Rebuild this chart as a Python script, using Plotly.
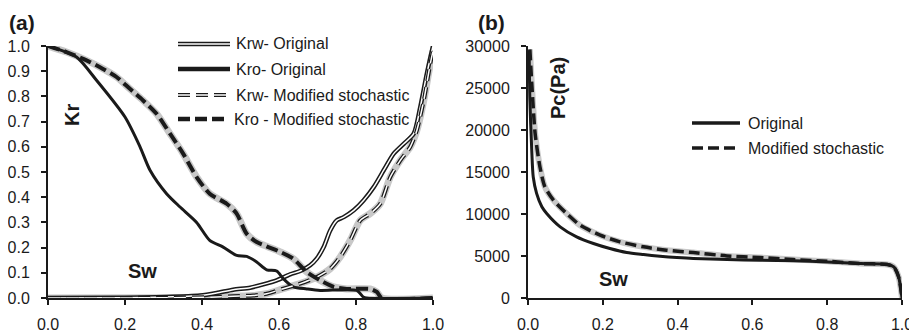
import plotly.graph_objects as go

# ---------------- data (panel a) ----------------
sw_kro_orig = [0, 0.074, 0.126, 0.2, 0.239, 0.265, 0.308, 0.343, 0.386, 0.42, 0.455, 0.49, 0.516,
               0.542, 0.568, 0.594, 0.611, 0.637, 0.672, 0.707, 0.802, 0.819, 0.828, 1.0]
kro_orig = [1.0, 0.956, 0.864, 0.718, 0.6, 0.507, 0.414, 0.361, 0.30, 0.229, 0.202, 0.169, 0.165,
            0.143, 0.112, 0.107, 0.077, 0.044, 0.036, 0.03, 0.03, 0.004, 0, 0]

sw_kro_mod = [0, 0.048, 0.1, 0.134, 0.178, 0.212, 0.247, 0.282, 0.317, 0.351, 0.386, 0.42, 0.464,
              0.49, 0.516, 0.542, 0.568, 0.603, 0.637, 0.672, 0.707, 0.742, 0.776, 0.837, 0.854, 0.867, 1.0]
kro_mod = [1.0, 0.976, 0.943, 0.917, 0.877, 0.831, 0.784, 0.731, 0.652, 0.573, 0.48, 0.414, 0.374,
           0.335, 0.255, 0.222, 0.205, 0.183, 0.156, 0.103, 0.07, 0.044, 0.036, 0.036, 0.024, 0, 0]

sw_krw_orig = [0, 0.2, 0.308, 0.395, 0.438, 0.481, 0.525, 0.559, 0.594, 0.629, 0.655, 0.681, 0.698,
               0.716, 0.733, 0.75, 0.768, 0.794, 0.82, 0.846, 0.872, 0.898, 0.924, 0.95, 0.967, 0.984, 1.0]
krw_orig = [0, 0.001, 0.004, 0.01, 0.02, 0.033, 0.041, 0.054, 0.07, 0.094, 0.107, 0.13, 0.156,
            0.202, 0.268, 0.308, 0.321, 0.348, 0.388, 0.44, 0.507, 0.573, 0.612, 0.652, 0.758, 0.89, 1.0]

sw_krw_mod = [0, 0.3, 0.438, 0.481, 0.533, 0.568, 0.611, 0.655, 0.698, 0.733, 0.759, 0.785, 0.811,
              0.837, 0.863, 0.889, 0.915, 0.941, 0.958, 0.976, 0.993, 1.0]
krw_mod = [0, 0.001, 0.004, 0.007, 0.01, 0.017, 0.037, 0.057, 0.083, 0.116, 0.163, 0.229, 0.308,
           0.335, 0.374, 0.48, 0.546, 0.6, 0.665, 0.784, 0.93, 0.98]

# ---------------- data (panel b) ----------------
sw_pc_orig = [0.003, 0.005, 0.01, 0.014, 0.023, 0.037, 0.05, 0.086, 0.13, 0.175, 0.219, 0.264, 0.309,
              0.353, 0.398, 0.442, 0.532, 0.621, 0.71, 0.8, 0.888, 0.96, 0.978, 0.991, 1.0]
pc_orig = [29500, 23600, 17600, 14400, 12450, 10860, 10070, 8475, 7280, 6490, 5890, 5410, 5170,
           4970, 4815, 4700, 4580, 4500, 4420, 4300, 4100, 4020, 3700, 2500, 0]

sw_pc_mod = [0.005, 0.01, 0.019, 0.032, 0.045, 0.068, 0.103, 0.139, 0.193, 0.246, 0.309, 0.371,
             0.442, 0.532, 0.621, 0.71, 0.8, 0.888, 0.96, 0.978, 0.991, 1.0]
pc_mod = [29600, 25600, 19600, 15600, 13250, 11650, 10070, 8675, 7480, 6685, 6090, 5690,
          5410, 5010, 4815, 4580, 4375, 4100, 3980, 3700, 2500, 0]

x_ticks = [0.0, 0.2, 0.4, 0.6, 0.8, 1.0]
kr_ticks = [0.0, 0.1, 0.2, 0.3, 0.4, 0.5, 0.6, 0.7, 0.8, 0.9, 1.0]
pc_ticks = [0, 5000, 10000, 15000, 20000, 25000, 30000]

legend_a = ["Krw- Original", "Kro- Original", "Krw- Modified stochastic", "Kro - Modified stochastic"]
legend_b = ["Original", "Modified stochastic"]

# ---------------- layout helpers ----------------
W, H = 917, 333
OFF = 8  # default page body margin
FW, FH = W - OFF, H - OFF
def px(x):
    return (x - OFF) / FW
def py(y):
    return 1 - (y - OFF) / FH

BLACK = "#1a1a1a"
GRAY = "#c8c8c8"
FONT = "Liberation Sans, Arial, sans-serif"

fig = go.Figure()

def add(x, y, xa, ya, color, width, dash="solid", smooth=0.7):
    fig.add_trace(go.Scatter(x=x, y=y, xaxis=xa, yaxis=ya, mode="lines",
                             line=dict(color=color, width=width, dash=dash,
                                       shape="spline", smoothing=smooth),
                             showlegend=False, hoverinfo="skip"))

# Panel a
add(sw_krw_mod, krw_mod, "x", "y", GRAY, 7)
add(sw_kro_mod, kro_mod, "x", "y", GRAY, 7)
add(sw_krw_orig, krw_orig, "x", "y", BLACK, 4.5)
add(sw_krw_orig, krw_orig, "x", "y", "white", 1.5)
add(sw_kro_orig, kro_orig, "x", "y", BLACK, 3)
add(sw_krw_mod, krw_mod, "x", "y", BLACK, 4, "12px,6px")
add(sw_krw_mod, krw_mod, "x", "y", "white", 1.5, "12px,6px")
add(sw_kro_mod, kro_mod, "x", "y", BLACK, 4, "12px,5px")

# Panel b
add(sw_pc_mod, pc_mod, "x2", "y2", GRAY, 6)
add(sw_pc_orig, pc_orig, "x2", "y2", BLACK, 3)
add(sw_pc_mod, pc_mod, "x2", "y2", BLACK, 3.5, "11px,5px")

y_top, y_bot = 46, 298
axis_common = dict(showgrid=False, zeroline=False, showline=True, linecolor=BLACK, linewidth=2,
                   ticks="outside", ticklen=5, tickwidth=1.5, tickcolor=BLACK, automargin=False,
                   tickfont=dict(family=FONT, size=16, color=BLACK), mirror=False)

fig.update_layout(
    template="none",
    width=FW, height=FH, margin=dict(l=0, r=0, t=0, b=0, pad=0),
    paper_bgcolor="white", plot_bgcolor="white",
    xaxis=dict(domain=[px(48), px(433)], range=[0, 1], tickvals=x_ticks, tickformat=".1f",
               anchor="y", ticklabelstandoff=6, **axis_common),
    yaxis=dict(domain=[py(y_bot), py(y_top)], range=[0, 1], tickvals=kr_ticks, tickformat=".1f",
               anchor="x", ticklabelstandoff=8, **axis_common),
    xaxis2=dict(domain=[px(528), px(902)], range=[0, 1], tickvals=x_ticks, tickformat=".1f",
                anchor="y2", ticklabelstandoff=6, **axis_common),
    yaxis2=dict(domain=[py(y_bot), py(y_top)], range=[0, 30000], tickvals=pc_ticks, tickformat="d",
                anchor="x2", ticklabelstandoff=8, **axis_common),
)

def text(x, y, s, size=16, bold=False, angle=0, xanchor="center"):
    fig.add_annotation(x=px(x), y=py(y), xref="paper", yref="paper", text=(f"<b>{s}</b>" if bold else s),
                       showarrow=False, textangle=angle, xanchor=xanchor, yanchor="middle",
                       font=dict(family=FONT, size=size, color=BLACK))

# panel labels & axis titles
text(22, 22, "(a)", 21, True)
text(491, 22, "(b)", 21, True)
text(72, 115, "Kr", 20, True, -90)
text(142, 271, "Sw", 20, True)
text(558, 88, "Pc(Pa)", 20, True, -90)
text(613, 279, "Sw", 20, True)

def seg(x0, x1, y, color, width, dash="solid"):
    fig.add_shape(type="line", xref="paper", yref="paper", x0=px(x0), x1=px(x1), y0=py(y), y1=py(y),
                  line=dict(color=color, width=width, dash=dash))

# legend a
rows_a = [44, 69, 95, 119]
seg(178, 230, rows_a[0], BLACK, 4.5); seg(178, 230, rows_a[0], "white", 1.5)
seg(178, 230, rows_a[1], BLACK, 4.5)
seg(178, 226, rows_a[2], BLACK, 4, "12px,6px"); seg(178, 226, rows_a[2], "white", 1.5, "12px,6px")
seg(178, 226, rows_a[3], BLACK, 4.5, "12px,5px")
for yy, lab, xs in zip(rows_a, legend_a, [234, 234, 234, 232]):
    text(xs, yy, lab, 16, False, 0, "left")

# legend b
rows_b = [123, 148]
seg(692, 740, rows_b[0], BLACK, 3.5)
seg(692, 738, rows_b[1], BLACK, 3.5, "11px,5px")
for yy, lab in zip(rows_b, legend_b):
    text(746, yy, lab, 16, False, 0, "left")

fig.write_html("out.html")
